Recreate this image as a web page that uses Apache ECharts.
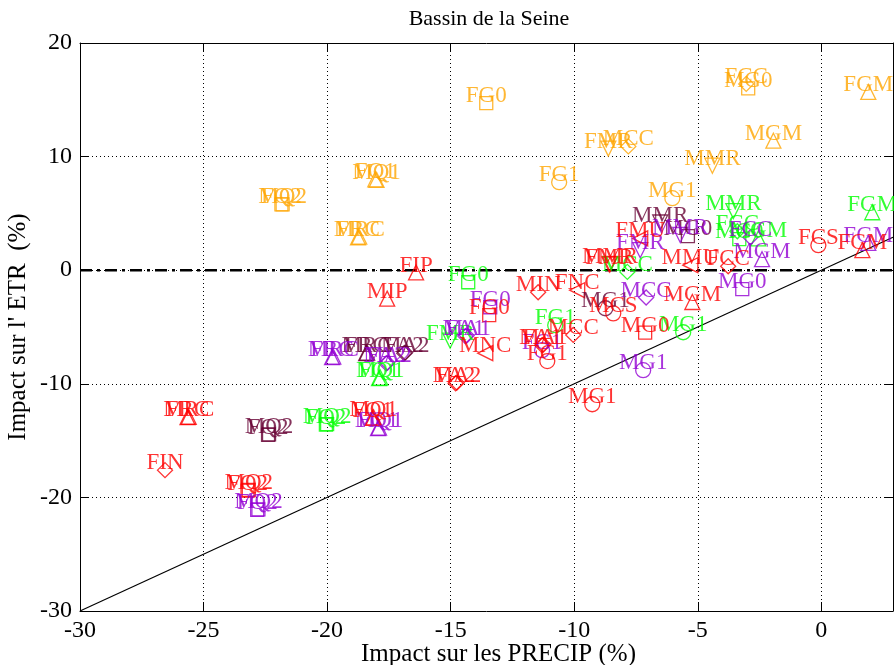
<!DOCTYPE html>
<html><head><meta charset="utf-8">
<script src="https://cdn.jsdelivr.net/npm/echarts@6/dist/echarts.min.js"></script>
<style>html,body{margin:0;padding:0;background:#fff}#c{width:894px;height:665px}</style>
</head><body><div id="c"></div>
<script>
// ---- data ----
const chartTitle = 'Bassin de la Seine';
const xName = 'Impact sur les PRECIP (%)';
const yName = "Impact sur l' ETR  (%)";
const xMin = -30, xMax = 2.9, yMin = -30, yMax = 20;
const diagX = [-30, 2.9];
const zeroY = 0;

const orangeNames = ['FG0','FG1','FMR','MCC','FCC','MG0','FGM','MGM','MMR','MG1','FQ2','MQ2','FQ1','MQ1','FRC','MRC'];
const orangeX     = [-13.56,-10.61,-8.62,-7.81,-3.04,-2.96,1.9,-1.94,-4.41,-6.03,-21.85,-21.8,-18.05,-18.0,-18.75,-18.7];
const orangeY     = [14.7,7.75,10.7,10.9,16.4,16.0,15.7,11.4,9.2,6.34,5.8,5.8,8.0,7.95,2.9,2.95];
const orangeMarks = ['s','o','v','d','d','s','^','^','v','o','s','s','^','^','^','^'];

const greenNames = ['FG0','FG1','FMR','FQ1','MQ1','FQ2','MQ2','MCC','MMR','FCC','MG0','MGM','FGM','MG1'];
const greenX     = [-14.29,-10.77,-15.02,-17.9,-17.85,-20.05,-20.0,-7.85,-3.56,-3.4,-3.32,-2.55,2.06,-5.59];
const greenY     = [-1.06,-4.84,-6.2,-9.5,-9.45,-13.6,-13.55,-0.15,5.2,3.43,2.73,2.8,5.1,-5.46];
const greenMarks = ['s','o','v','^','^','s','s','d','v','d','s','^','^','o'];

const redNames = ['FIP','MIP','FG0','MNC','FA2','MA2','MIN','FNC','FA1','MA1','FG1','MCC','MG1','MCS','MG0','MGM','FCC','MMU','FCS','FGM','FMR','MMR','FMU','FRC','MRC','FIN','FQ2','MQ2','FQ1','MQ1'];
const redX     = [-16.4,-17.57,-13.44,-13.6,-14.8,-14.75,-11.46,-9.88,-11.3,-11.25,-11.09,-10.04,-9.27,-8.42,-7.13,-5.22,-3.77,-5.3,-0.12,1.66,-8.58,-8.55,-7.33,-25.65,-25.6,-26.56,-23.22,-23.17,-18.16,-18.12];
const redY     = [-0.2,-2.5,-3.96,-7.3,-9.95,-9.9,-1.94,-1.76,-6.6,-6.55,-8.0,-5.7,-11.8,-3.8,-5.5,-2.8,0.35,0.44,2.2,1.76,0.5,0.55,2.8,-12.94,-12.9,-17.6,-19.4,-19.35,-13.0,-12.95];
const redMarks = ['^','^','s','<','d','d','d','<','d','d','o','d','o','o','s','^','d','<','o','^','v','v','<','^','^','d','s','s','^','^'];

const purpleNames = ['FG0','FA1','MA1','FRC','MRC','FA2','MA2','FQ1','MQ1','FQ2','MQ2','FG1','MG1','MCC','MG0','MGM','FGM','FCC','FMR','MMR'];
const purpleX     = [-13.4,-14.41,-14.35,-19.8,-19.75,-17.61,-17.56,-17.94,-17.9,-22.83,-22.78,-11.3,-7.21,-7.09,-3.2,-2.4,1.9,-2.87,-7.33,-5.71];
const purpleY     = [-3.26,-5.8,-5.75,-7.66,-7.6,-8.2,-8.15,-13.9,-13.85,-21.1,-21.05,-7.04,-8.8,-2.4,-1.67,0.97,2.4,2.9,1.76,3.1];
const purpleMarks = ['s','d','d','^','^','d','d','^','^','s','s','o','o','d','s','^','^','d','v','v'];

const maroonNames = ['MMR','MG0','MG1','FRC','MRC','FA2','MA2','FQ2','MQ2'];
const maroonX     = [-6.52,-5.4,-8.74,-18.42,-18.38,-16.88,-16.84,-22.39,-22.35];
const maroonY     = [4.2,3.0,-3.35,-7.3,-7.25,-7.3,-7.25,-14.5,-14.45];
const maroonMarks = ['v','s','o','^','^','d','d','s','s'];

const groups = [
  {names: maroonNames, x: maroonX, y: maroonY, marks: maroonMarks, color: '#660033'},
  {names: orangeNames, x: orangeX, y: orangeY, marks: orangeMarks, color: '#FFA500'},
  {names: greenNames,  x: greenX,  y: greenY,  marks: greenMarks,  color: '#00FF00'},
  {names: purpleNames, x: purpleX, y: purpleY, marks: purpleMarks, color: '#9400D3'},
  {names: redNames,    x: redX,    y: redY,    marks: redMarks,    color: '#FF0000'}
];

// ---- styling helpers ----
const FONT = 'Liberation Serif';
const shapeMap = {
  's': {symbol: 'rect', rot: 0, size: 13},
  'o': {symbol: 'circle', rot: 0, size: 15},
  '^': {symbol: 'triangle', rot: 0, size: 15},
  'v': {symbol: 'triangle', rot: 180, size: 15},
  '<': {symbol: 'triangle', rot: 90, size: 15},
  'd': {symbol: 'path://M0,-1L1,0L0,1L-1,0Z', rot: 0, size: 15}
};

const scatterSeries = groups.map(g => ({
  type: 'scatter',
  z: 5,
  data: g.names.map((n, i) => {
    const s = shapeMap[g.marks[i]];
    return {value: [g.x[i], g.y[i]], name: n, symbol: s.symbol, symbolRotate: s.rot, symbolSize: s.size};
  }),
  itemStyle: {color: 'rgba(0,0,0,0)', borderColor: g.color, borderWidth: 1.3},
  label: {
    show: true, position: 'inside', formatter: p => p.name,
    color: g.color, fontFamily: FONT, fontSize: 23, align: 'center', verticalAlign: 'middle',
    offset: [0, -7]
  },
  emphasis: {disabled: true}
}));

const axisCommonX = {
  type: 'value', min: xMin, max: xMax, interval: 5
};
const axisCommonY = {
  type: 'value', min: yMin, max: yMax, interval: 10
};

const option = {
  animation: false,
  backgroundColor: '#fff',
  title: {
    text: chartTitle, left: 484, top: 3, textAlign: 'center',
    textStyle: {fontFamily: FONT, fontSize: 22, fontWeight: 'normal', color: '#000'}
  },
  grid: {left: 80, right: 1, top: 43, bottom: 54, containLabel: false, outerBoundsMode: 'none'},
  xAxis: [
    Object.assign({}, axisCommonX, {
      position: 'bottom',
      name: xName, nameLocation: 'middle', nameGap: 31, nameMoveOverlap: false,
      nameTextStyle: {fontFamily: FONT, fontSize: 25, color: '#000', padding: [0, 0, 0, 24]},
      axisLine: {onZero: false, lineStyle: {color: '#000', width: 1}},
      axisTick: {inside: true, length: 9, lineStyle: {color: '#000'}},
      axisLabel: {fontFamily: FONT, fontSize: 24, color: '#000', margin: 8,
        formatter: v => (Math.abs(v % 5) < 1e-9 ? String(v) : '')},
      splitLine: {show: true, lineStyle: {color: '#000', type: [1, 3], width: 1}}
    }),
    Object.assign({}, axisCommonX, {
      position: 'top',
      axisLine: {onZero: false, lineStyle: {color: '#000', width: 1}},
      axisTick: {inside: true, length: 9, lineStyle: {color: '#000'}},
      axisLabel: {show: false},
      splitLine: {show: false}
    })
  ],
  yAxis: [
    Object.assign({}, axisCommonY, {
      position: 'left',
      name: yName, nameLocation: 'middle', nameGap: 49, nameRotate: 90, nameMoveOverlap: false,
      nameTextStyle: {fontFamily: FONT, fontSize: 25, color: '#000'},
      axisLine: {onZero: false, lineStyle: {color: '#000', width: 1}},
      axisTick: {inside: true, length: 9, lineStyle: {color: '#000'}},
      axisLabel: {fontFamily: FONT, fontSize: 24, color: '#000', margin: 8},
      splitLine: {show: true, lineStyle: {color: '#000', type: [1, 3], width: 1}}
    }),
    Object.assign({}, axisCommonY, {
      position: 'right',
      axisLine: {onZero: false, lineStyle: {color: '#000', width: 1}},
      axisTick: {inside: true, length: 9, lineStyle: {color: '#000'}},
      axisLabel: {show: false},
      splitLine: {show: false}
    })
  ],
  series: [
    {
      type: 'line', z: 2, symbol: 'none', silent: true,
      data: diagX.map(v => [v, v]),
      lineStyle: {color: '#000', width: 1.2}
    },
    {
      type: 'line', z: 3, symbol: 'none', silent: true,
      data: diagX.map(v => [v, zeroY]),
      lineStyle: {color: '#000', width: 2.5, type: [12, 5, 3, 5]}
    }
  ].concat(scatterSeries)
};

const chart = echarts.init(document.getElementById('c'), null, {renderer: 'canvas'});
chart.setOption(option);
</script></body></html>
